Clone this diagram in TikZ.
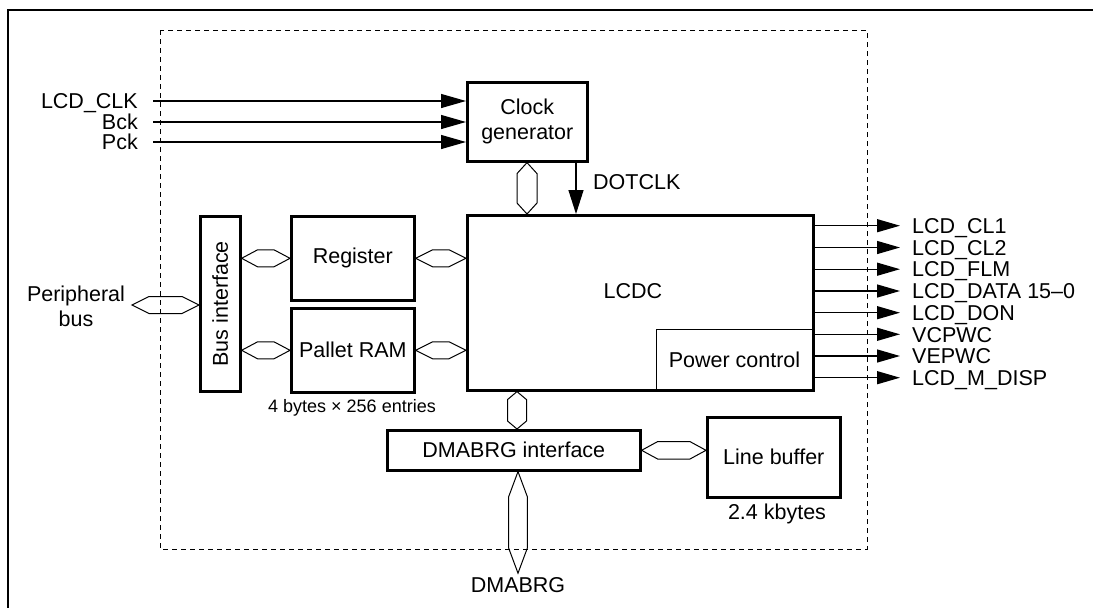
\documentclass[tikz,border=0pt]{standalone}
\usepackage{fontspec}
\setmainfont{Liberation Sans}
\usetikzlibrary{arrows.meta,calc}
\newcommand\mainfs{\fontsize{21.5}{25}\selectfont}
\newcommand\smallfs{\fontsize{18}{21}\selectfont}
\begin{document}
\begin{tikzpicture}[x=1pt,y=-1pt,
  box/.style={draw, line width=2.6pt, inner sep=0pt, anchor=north west, font=\mainfs, align=center},
  thinbox/.style={draw, line width=1pt, inner sep=0pt, anchor=north west, font=\mainfs, align=center},
  lbl/.style={font=\mainfs, inner sep=0pt, align=center},
  sml/.style={font=\smallfs, inner sep=0pt},
  inlbl/.style={font=\mainfs, anchor=east, inner xsep=15pt, inner ysep=0pt, text height=15.4pt, text depth=0pt},
  outlbl/.style={font=\mainfs, anchor=west, inner xsep=12pt, inner ysep=0pt, text height=15.4pt, text depth=0pt},
  sig/.style={line width=1.3pt, -{Triangle[length=25pt,width=14pt]}},
  osig/.style={line width=1.3pt, -{Triangle[length=23pt,width=13pt]}},
  bus/.style 2 args={line width=1pt, to path={
    -- ($(\tikztostart)!#1!(\tikztotarget)!#2!90:(\tikztotarget)$)
    -- ($(\tikztotarget)!#1!(\tikztostart)!#2!-90:(\tikztostart)$)
    -- (\tikztotarget)
    -- ($(\tikztotarget)!#1!(\tikztostart)!#2!90:(\tikztostart)$)
    -- ($(\tikztostart)!#1!(\tikztotarget)!#2!-90:(\tikztotarget)$)
    -- cycle}},
  frame/.style={line width=2.6pt},
  dashbox/.style={line width=1pt, dash pattern=on 5pt off 4pt}
]
\useasboundingbox (0,0) rectangle (1093,608);
% outer frame
\draw[frame] (8,608) -- (8,10) -- (1093,10);
% dashed LSI boundary
\draw[dashbox] (160,30) rectangle (867,549);

% blocks
\node[box, minimum width=120pt, minimum height=79pt] (clk) at (466,81) {Clock\\generator};
\node[box, minimum width=346pt, minimum height=175pt] (lcdc) at (466,214) {};
\node[lbl] (lcdct) at (633,291) {LCDC};
\node[thinbox, minimum width=156pt, minimum height=60pt] (pwr) at (656,329) {Power control};
\node[box, minimum width=40pt, minimum height=175pt] (busif) at (199,215) {};
\node[lbl, rotate=90] (busift) at (busif.center) {Bus interface};
\node[box, minimum width=123pt, minimum height=84pt] (reg) at (290,215) {Register};
\node[box, minimum width=123pt, minimum height=84pt] (pal) at (290,307) {Pallet RAM};
\node[sml] (palsz) at (352,408) {4 bytes × 256 entries};
\node[box, minimum width=253pt, minimum height=40pt] (dmaif) at (386,429) {DMABRG interface};
\node[box, minimum width=133pt, minimum height=80pt] (lbuf) at (706,416) {Line buffer};
\node[lbl] (lbufsz) at (777,514) {2.4 kbytes};

% clock inputs
\node[inlbl] (i1) at (153,101) {LCD\_CLK};
\node[inlbl] (i2) at (153,122) {Bck};
\node[inlbl] (i3) at (153,142) {Pck};
\foreach \i in {i1,i2,i3} \draw[sig] (\i.east) -- (clk.west |- \i.east);

% DOTCLK
\coordinate (dc) at (576,0);
\draw[line width=1.3pt, -{Triangle[length=24pt,width=15pt]}] (clk.south -| dc) -- (lcdc.north -| dc);
\node[lbl, anchor=west] (dctext) at (593,182) {DOTCLK};

% buses
\coordinate (hx1) at (527,0);
\draw[bus={11pt}{10pt}] (clk.south -| hx1) to (lcdc.north -| hx1);
\draw[bus={16pt}{8.5pt}] (busif.east |- reg.west) to (reg.west);
\draw[bus={16pt}{8.5pt}] (busif.east |- pal.west) to (pal.west);
\draw[bus={17pt}{8.5pt}] (reg.east) to (lcdc.west |- reg.east);
\draw[bus={17pt}{8.5pt}] (pal.east) to (lcdc.west |- pal.east);
\coordinate (pb) at (132,305);
\node[lbl] (pbt) at (76,306) {Peripheral\\bus};
\draw[bus={17pt}{8.5pt}] (pb) to (busif.west |- pb);
\coordinate (hx2) at (517,0);
\draw[bus={8pt}{9.5pt}] (lcdc.south -| hx2) to (dmaif.north -| hx2);
\draw[bus={16pt}{8.7pt}] (dmaif.east) to (lbuf.west |- dmaif.east);
\node[lbl, inner sep=4pt] (dmabrg) at (518,585) {DMABRG};
\draw[bus={25pt}{9.3pt}] (dmaif.south -| dmabrg.north) to (dmabrg.north);

% outputs
\node[outlbl] (o1) at (900,225.7) {LCD\_CL1};
\node[outlbl] (o2) at (900,247.5) {LCD\_CL2};
\node[outlbl] (o3) at (900,269.2) {LCD\_FLM};
\node[outlbl] (o4) at (900,291) {LCD\_DATA 15–0};
\node[outlbl] (o5) at (900,312.7) {LCD\_DON};
\node[outlbl] (o6) at (900,334.3) {VCPWC};
\node[outlbl] (o7) at (900,356) {VEPWC};
\node[outlbl] (o8) at (900,377.7) {LCD\_M\_DISP};
\foreach \o in {o1,o2,o3,o4,o5,o6,o7,o8} \draw[osig] (lcdc.east |- \o.west) -- (\o.west);
\end{tikzpicture}
\end{document}
